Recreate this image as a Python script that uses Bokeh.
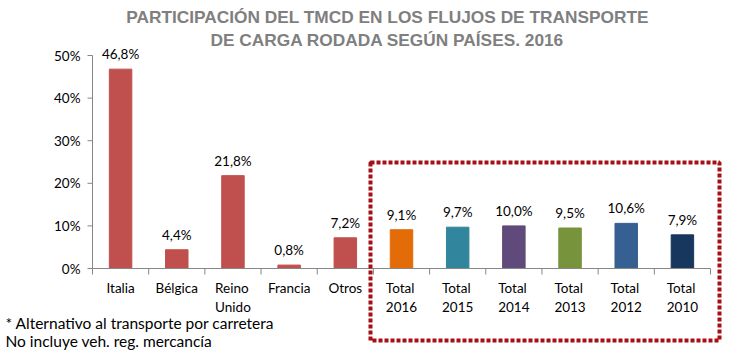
from bokeh.plotting import figure
from bokeh.models import (ColumnDataSource, LabelSet, Label, BoxAnnotation, Range1d)
from bokeh.core.properties import value
from bokeh.embed import file_html
from bokeh.resources import INLINE

categories = ["Italia", "Bélgica", "Reino\nUnido", "Francia", "Otros",
              "Total\n2016", "Total\n2015", "Total\n2014", "Total\n2013", "Total\n2012", "Total\n2010"]
values = [46.8, 4.4, 21.8, 0.8, 7.2, 9.1, 9.7, 10.0, 9.5, 10.6, 7.9]
value_labels = ["46,8%", "4,4%", "21,8%", "0,8%", "7,2%", "9,1%", "9,7%", "10,0%", "9,5%", "10,6%", "7,9%"]
bar_colors = ["#C0504D"] * 5 + ["#E36C09", "#31859C", "#604A7B", "#77933C", "#376092", "#17375E"]
y_ticks = [0, 10, 20, 30, 40, 50]
title_lines = ["PARTICIPACIÓN DEL TMCD EN LOS FLUJOS DE TRANSPORTE",
               "DE CARGA RODADA SEGÚN PAÍSES. 2016"]
notes = ["*  Alternativo al transporte por carretera", "No incluye veh. reg. mercancía"]

# ---- layout (canvas pixels) ----
W, H = 733, 352
AX_LEFT, AX_RIGHT = 92, 710      # x pixel of category-axis start / end
AX_ZERO, AX_TOP = 268, 55        # y pixel of 0% / 50%
FONT = "Lato"
AXIS_COLOR = "#868686"

n = len(categories)
ppx = (AX_RIGHT - AX_LEFT) / n
ppy = (AX_ZERO - AX_TOP) / (y_ticks[-1] / 100)

p = figure(width=W, height=H, output_backend="svg", toolbar_location=None,
           x_range=Range1d(-AX_LEFT / ppx, n + (W - AX_RIGHT) / ppx),
           y_range=Range1d(-(H - AX_ZERO) / ppy, AX_ZERO / ppy),
           x_axis_location=None, y_axis_location=None,
           min_border=0, min_border_left=0, min_border_right=0,
           min_border_top=0, min_border_bottom=0)
p.outline_line_color = None
p.background_fill_color = "white"
p.border_fill_color = "white"
p.grid.visible = False

xs = [i + 0.5 for i in range(n)]
src = ColumnDataSource(dict(x=xs, top=[v / 100 for v in values], lab=value_labels,
                            color=bar_colors, cat=categories, zero=[0] * n))

# bars
p.vbar(x="x", top="top", width=0.4, color="color", source=src)

# value labels
p.add_layout(LabelSet(x="x", y="top", text="lab", source=src, text_align="center",
                      text_baseline="middle", y_offset=15, text_font=value(FONT),
                      text_font_size=value("13.5px"), text_color="#000000"))

# ---- y axis (0% .. 50%) ----
ysrc = ColumnDataSource(dict(y=[t / 100 for t in y_ticks], lab=[f"{t}%" for t in y_ticks],
                             x0=[0] * len(y_ticks), x1=[-5 / ppx] * len(y_ticks)))
p.segment(x0=0, y0=0, x1=0, y1=y_ticks[-1] / 100, line_color=AXIS_COLOR, line_width=1)
p.segment(x0="x0", y0="y", x1="x1", y1="y", source=ysrc, line_color=AXIS_COLOR, line_width=1)
p.add_layout(LabelSet(x="x0", y="y", text="lab", source=ysrc, text_align="right",
                      text_baseline="middle", x_offset=-12, text_font=value(FONT),
                      text_font_size=value("13.5px"), text_color="#000000"))

# ---- x axis (category boundaries ticks) ----
bounds = list(range(n + 1))
bsrc = ColumnDataSource(dict(x=bounds, y0=[0] * (n + 1), y1=[-6 / ppy] * (n + 1)))
p.segment(x0=0, y0=0, x1=n, y1=0, line_color=AXIS_COLOR, line_width=1)
p.segment(x0="x", y0="y0", x1="x", y1="y1", source=bsrc, line_color=AXIS_COLOR, line_width=1)
p.add_layout(LabelSet(x="x", y="zero", text="cat", source=src, text_align="center",
                      text_baseline="top", y_offset=-11, text_font=value(FONT),
                      text_font_size=value("13.5px"), text_color="#000000",
                      text_line_height=1.2))

# ---- title ----
for i, t in enumerate(title_lines):
    p.add_layout(Label(x=387, y=H - (16 + 23 * i), x_units="screen", y_units="screen", text=t,
                       text_align="center", text_baseline="middle", text_font="Liberation Sans",
                       text_font_style="bold", text_font_size="17.3px", text_color="#7F7F7F"))

# ---- notes ----
for i, t in enumerate(notes):
    p.add_layout(Label(x=5, y=H - (322 + 18 * i), x_units="screen", y_units="screen", text=t,
                       text_align="left", text_baseline="middle", text_font=FONT,
                       text_font_size="15.5px", text_color="#000000"))

# ---- dotted highlight box ----
p.add_layout(BoxAnnotation(left=370, right=719, top=H - 162, bottom=H - 340,
                           left_units="screen", right_units="screen", top_units="screen",
                           bottom_units="screen", fill_color=None, fill_alpha=0,
                           line_color="#A50F15", line_alpha=1.0,
                           line_width=4, line_dash="4 2", line_cap="butt"))

open("out.html", "w").write(file_html(p, INLINE))
